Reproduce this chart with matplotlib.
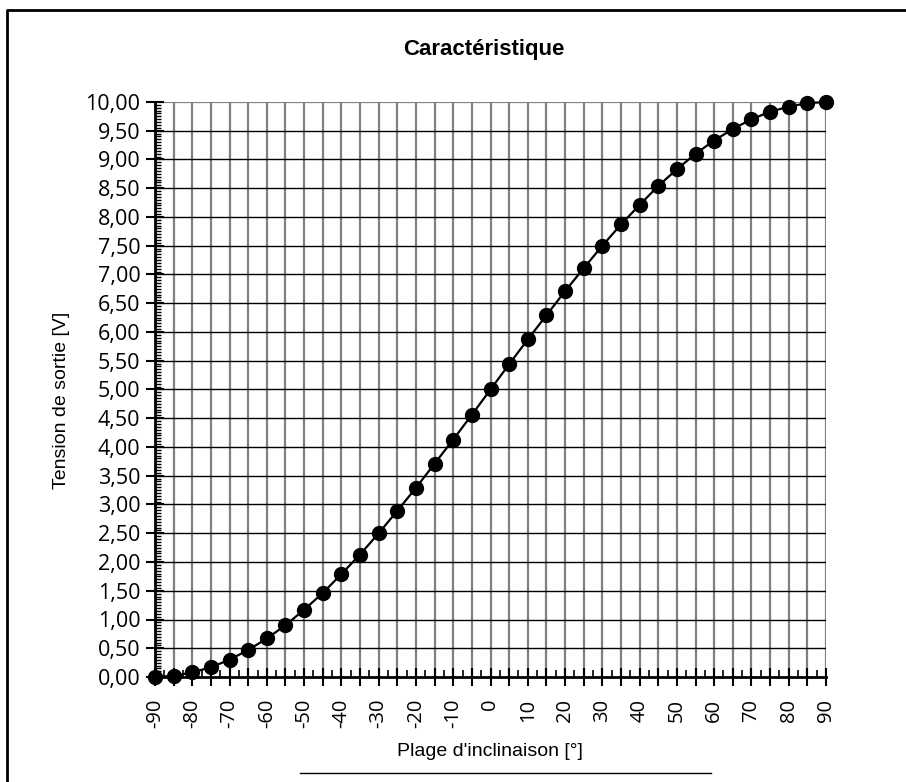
import numpy as np
import matplotlib.pyplot as plt
from matplotlib.ticker import MultipleLocator, FuncFormatter
from matplotlib.lines import Line2D

angles = [-90, -85, -80, -75, -70, -65, -60, -55, -50, -45, -40, -35, -30, -25, -20, -15, -10, -5,
          0, 5, 10, 15, 20, 25, 30, 35, 40, 45, 50, 55, 60, 65, 70, 75, 80, 85, 90]
tension = [0.00, 0.02, 0.08, 0.17, 0.30, 0.47, 0.67, 0.90, 1.17, 1.46, 1.79, 2.13, 2.50, 2.89, 3.29, 3.71, 4.13, 4.56,
           5.00, 5.44, 5.87, 6.29, 6.71, 7.11, 7.50, 7.87, 8.21, 8.54, 8.83, 9.10, 9.33, 9.53, 9.70, 9.83, 9.92, 9.98, 10.00]

W, H = 906, 782
fig = plt.figure(figsize=(W / 100, H / 100), dpi=100)
ax = fig.add_axes([155 / W, 1 - 677 / H, (826 - 155) / W, (677 - 102) / H])

# vertical grid gray, horizontal black
for x in range(-90, 91, 5):
    ax.axvline(x, color='#808080', lw=1.6, zorder=1)
for y in np.arange(0.5, 10.01, 0.5):
    ax.axhline(y, color='black' if y < 10 else '#808080', lw=1.0 if y < 10 else 1.6, zorder=1)

ax.plot(angles, tension, color='black', lw=1.6, marker='o', ms=10, zorder=3, clip_on=False)

ax.set_xlim(-90, 90)
ax.set_ylim(0, 10)
for s in ['top', 'right']:
    ax.spines[s].set_visible(False)
ax.spines['left'].set_linewidth(2)
ax.spines['bottom'].set_linewidth(2)

ax.xaxis.set_major_locator(MultipleLocator(5))
ax.xaxis.set_minor_locator(MultipleLocator(2.5))
ax.yaxis.set_major_locator(MultipleLocator(0.5))
ax.yaxis.set_minor_locator(MultipleLocator(0.05))

ax.xaxis.set_major_formatter(FuncFormatter(lambda v, p: '%d' % v if int(round(v)) % 10 == 0 else ''))
ax.yaxis.set_major_formatter(FuncFormatter(lambda v, p: ('%.2f' % v).replace('.', ',')))

ax.tick_params(axis='x', which='major', direction='inout', length=13, width=1.5, labelsize=14.5,
               labelrotation=90, pad=9)
ax.tick_params(axis='x', which='minor', direction='in', length=5, width=1.2)
ax.tick_params(axis='y', which='major', direction='inout', length=13, width=1.5, labelsize=15.5, pad=4)
ax.tick_params(axis='y', which='minor', direction='in', length=4, width=1)
for lab in ax.get_xticklabels() + ax.get_yticklabels():
    lab.set_fontfamily('Open Sans')

fig.text(484 / W, 1 - 50 / H, 'Caractéristique', ha='center', va='center', fontsize=16,
         fontweight='bold', family='Liberation Sans')
fig.text(490 / W, 1 - 751 / H, "Plage d'inclinaison [°]", ha='center', va='center', fontsize=14,
         family='Liberation Sans')
fig.text(62 / W, 1 - 400 / H, 'Tension de sortie [V]', ha='center', va='center', fontsize=14,
         family='Liberation Sans', rotation=90)

# line under the axis title and frame around the chart
fig.add_artist(Line2D([300 / W, 711 / W], [1 - 773 / H, 1 - 773 / H], color='black', lw=1))
fig.add_artist(Line2D([7 / W, 7 / W, 1], [0, 1 - 10 / H, 1 - 10 / H], color='black', lw=2))

fig.savefig('out.png', dpi=100)
